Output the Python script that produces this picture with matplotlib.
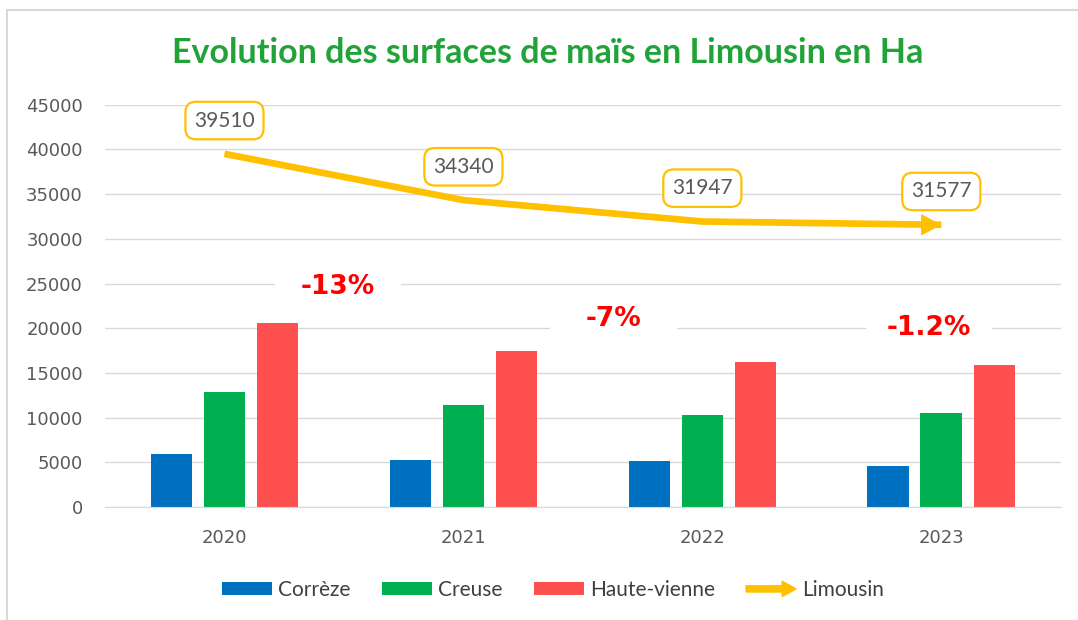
import matplotlib
matplotlib.use('Agg')
import matplotlib.pyplot as plt
import matplotlib.patches as mpatches
from matplotlib.legend_handler import HandlerPatch
from matplotlib.path import Path
import numpy as np

# surfaces de maïs (Ha)
years = ['2020', '2021', '2022', '2023']
correze = [6000, 5250, 5150, 4550]
creuse = [12850, 11450, 10300, 10550]
haute_vienne = [20550, 17500, 16200, 15850]
limousin = [39510, 34340, 31947, 31577]
variations = ['-13%', '-7%', '-1.2%']

BLUE = '#0070C0'
GREEN = '#00B050'
RED = '#FF5050'
ORANGE = '#FFC000'
GRID = '#D9D9D9'


def wide_box(x0, y0, width, height, mutation_size):
    # boite blanche de largeur fixe derriere les pourcentages
    padx = max((4.8 * mutation_size - width) / 2, 0)
    pady = 0.2 * mutation_size
    return Path([(x0 - padx, y0 - pady), (x0 + width + padx, y0 - pady),
                 (x0 + width + padx, y0 + height + pady), (x0 - padx, y0 + height + pady),
                 (x0 - padx, y0 - pady)], closed=True)


def make_arrow(legend, orig_handle, xdescent, ydescent, width, height, fontsize):
    return mpatches.FancyArrow(-xdescent, height / 2 - ydescent, width, 0, width=4.5,
                               head_width=11, head_length=10, length_includes_head=True)


fig = plt.figure(figsize=(10.78, 6.2), dpi=100)
ax = fig.add_axes([0.0974, 0.182, 0.8866, 0.649])

x = np.arange(len(years))
step, w = 0.222, 0.174
ax.bar(x - step, correze, w, color=BLUE, label='Corrèze', zorder=2)
ax.bar(x, creuse, w, color=GREEN, label='Creuse', zorder=2)
ax.bar(x + step, haute_vienne, w, color=RED, label='Haute-vienne', zorder=2)

ax.plot(x, limousin, color=ORANGE, lw=4.8, solid_capstyle='butt', solid_joinstyle='round', zorder=3)
ax.annotate('', xy=(x[-1], limousin[-1]), xytext=(x[-1] - 0.1, limousin[-1]),
            arrowprops=dict(arrowstyle='-|>,head_length=0.65,head_width=0.35', color=ORANGE,
                            lw=1, mutation_scale=20, shrinkA=0, shrinkB=0), zorder=3)

for i, v in enumerate(limousin):
    ax.annotate(str(v), xy=(x[i], v), xytext=(0, 24), textcoords='offset points',
                ha='center', va='center', fontsize=15, color='#595959', family='Lato',
                bbox=dict(boxstyle='round,pad=0.42,rounding_size=0.5', fc='white', ec=ORANGE, lw=1.6),
                zorder=5)

var_pos = [(0.475, 24600), (1.628, 21050), (2.948, 20040)]
for (px, py), txt in zip(var_pos, variations):
    ax.text(px, py, txt, ha='center', va='center', fontsize=19, fontweight='bold', color='#FF0000',
            family='DejaVu Sans', bbox=dict(boxstyle=wide_box, fc='white', ec='none'), zorder=4)

ax.set_xlim(-0.5, 3.5)
ax.set_ylim(0, 45000)
ax.set_yticks(range(0, 45001, 5000))
ax.set_xticks(x)
ax.set_xticklabels(years)
ax.yaxis.grid(True, color=GRID, lw=1)
ax.set_axisbelow(True)
for s in ['top', 'right', 'left']:
    ax.spines[s].set_visible(False)
ax.spines['bottom'].set_color(GRID)
ax.tick_params(axis='both', length=0, labelsize=13, labelcolor='#595959')
ax.tick_params(axis='y', pad=16)
ax.tick_params(axis='x', pad=16)

fig.suptitle('Evolution des surfaces de maïs en Limousin en Ha', x=0.508, y=0.914, va='center',
             fontsize=24.5, fontweight='bold', color='#22A33A', family='Lato')

handles, labels = ax.get_legend_handles_labels()
arrow = mpatches.FancyArrow(0, 0, 1, 0, color=ORANGE)
handles.append(arrow)
labels.append('Limousin')
fig.legend(handles, labels, loc='center', bbox_to_anchor=(0.513, 0.048), ncol=4, frameon=False,
           prop={'family': 'Lato', 'size': 15}, labelcolor='#404040', handlelength=2.4,
           handleheight=0.58, handletextpad=0.3, columnspacing=1.5,
           handler_map={mpatches.FancyArrow: HandlerPatch(patch_func=make_arrow)})

fig.patches.append(mpatches.Rectangle((0.0065, -0.05), 1.1, 1.034, transform=fig.transFigure,
                                      fill=False, ec=GRID, lw=1.5))

fig.savefig('out.png', dpi=100)
